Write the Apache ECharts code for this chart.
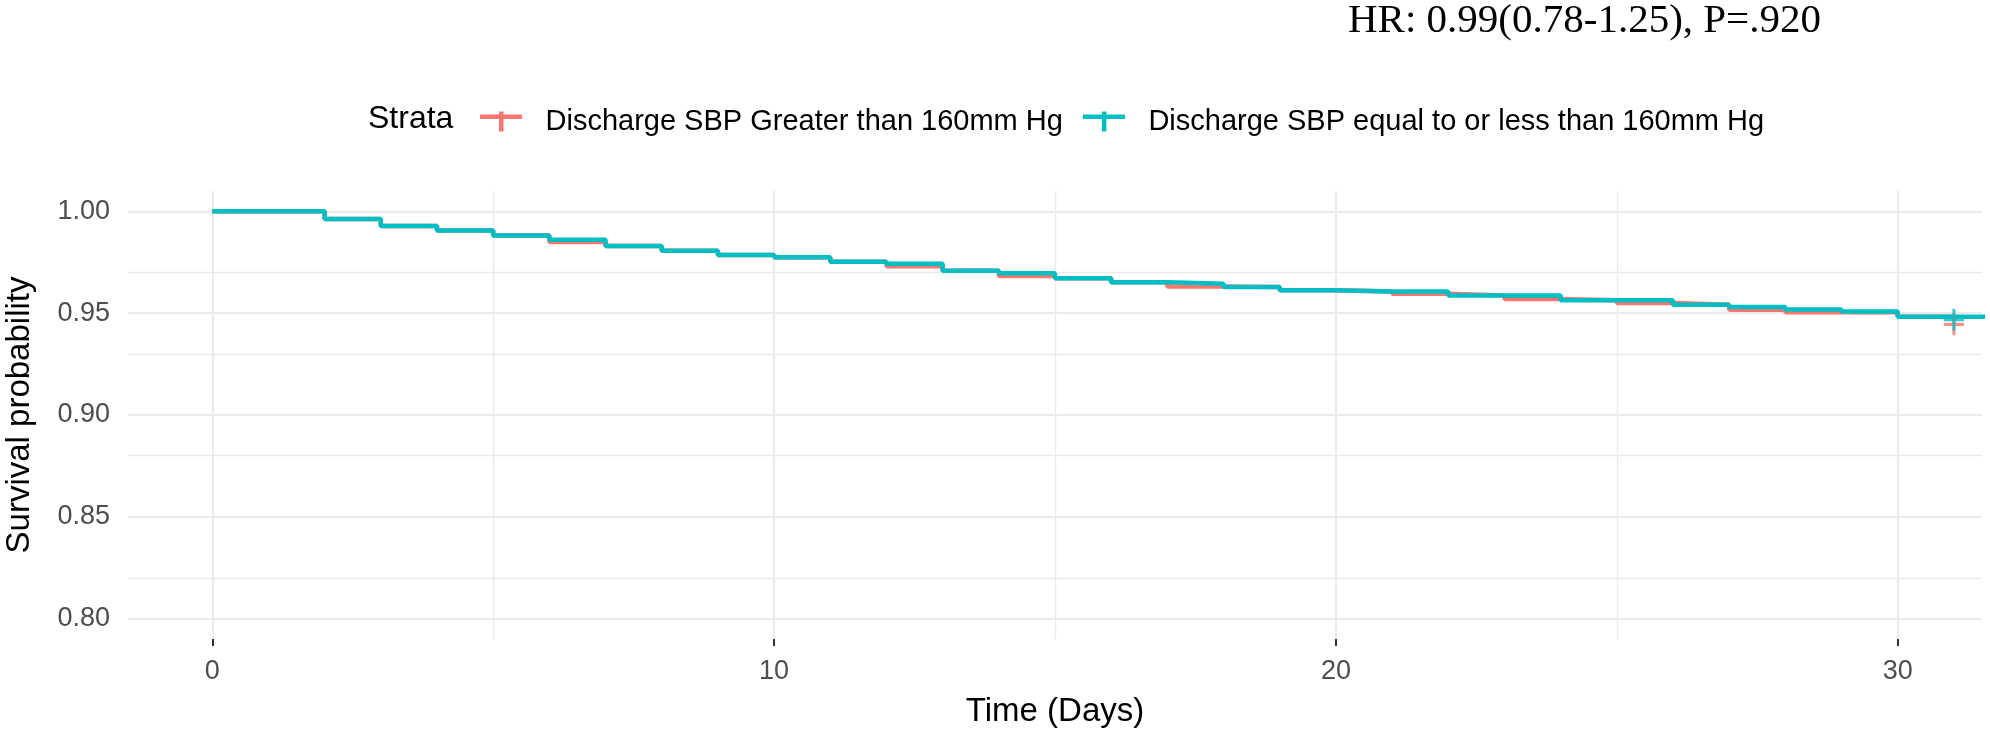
<!DOCTYPE html>
<html>
<head>
<meta charset="utf-8">
<script src="https://cdn.jsdelivr.net/npm/echarts@6/dist/echarts.min.js"></script>
<style>
html,body{margin:0;padding:0;background:#fff;}
#chart{width:1990px;height:733px;}
</style>
</head>
<body>
<div id="chart"></div>
<script>
// Strata names
const strataNames = ['Discharge SBP Greater than 160mm Hg', 'Discharge SBP equal to or less than 160mm Hg'];
// Step-curve event times (days) and survival values
const daysHigh = [0, 2, 3, 4, 5, 6, 7, 8, 9, 10, 11, 12, 13, 14, 15, 16, 17, 18, 19, 20, 21, 22, 23, 24, 25, 26, 27, 28, 29, 30, 31];
const survHigh = [1.0, 0.9962, 0.9928, 0.9906, 0.9882, 0.9849, 0.9830, 0.9807, 0.9786, 0.9775, 0.9753, 0.9730, 0.9708, 0.9683, 0.9672, 0.9652, 0.9631, 0.9628, 0.9613, 0.9606, 0.9595, 0.9587, 0.9570, 0.9563, 0.9550, 0.9542, 0.9517, 0.9505, 0.9505, 0.9483, 0.9460];
const daysLow = [0, 2, 3, 4, 5, 6, 7, 8, 9, 10, 11, 12, 13, 14, 15, 16, 17, 18, 19, 20, 21, 22, 23, 24, 25, 26, 27, 28, 29, 30, 31.6];
const survLow = [1.0, 0.9962, 0.9928, 0.9906, 0.9882, 0.9861, 0.9830, 0.9807, 0.9786, 0.9775, 0.9753, 0.9743, 0.9708, 0.9696, 0.9672, 0.9652, 0.9644, 0.9629, 0.9613, 0.9606, 0.9606, 0.9587, 0.9587, 0.9563, 0.9563, 0.9542, 0.9530, 0.9518, 0.9508, 0.9483, 0.9483];
// Censor marks
const censorHigh = [[31, 0.9460]];
const censorLow = [[31, 0.9483]];
// Axis ticks
const xTicks = [0, 10, 20, 30];
const xMinorGrid = [5, 15, 25];
const yTicks = [0.80, 0.85, 0.90, 0.95, 1.00];
const yMinorGrid = [0.825, 0.875, 0.925, 0.975];
const hrText = 'HR: 0.99(0.78-1.25), P=.920';

const colors = ['#F8766D', '#00BFC4'];
const FONT = 'Liberation Sans, Arial, sans-serif';
const plusPath = 'path://M0,9h20v3h-20z M8.5,0h3v21h-3z';
const legendIcon = 'path://M0,3h42v4.5h-42z M19,0h4.5v20h-4.5z';

const zip = (xs, ys) => xs.map((x, i) => [x, ys[i]]);

const gridLines = [];
xTicks.forEach(v => gridLines.push({xAxis: v, lineStyle: {width: 2.2}}));
xMinorGrid.forEach(v => gridLines.push({xAxis: v, lineStyle: {width: 1.4}}));
yTicks.forEach(v => gridLines.push({yAxis: v, lineStyle: {width: 2.2}}));
yMinorGrid.forEach(v => gridLines.push({yAxis: v, lineStyle: {width: 1.4}}));

const chart = echarts.init(document.getElementById('chart'), null, {renderer: 'canvas'});
chart.setOption({
  animation: false,
  backgroundColor: '#ffffff',
  grid: {left: 128, right: 8, top: 191, bottom: 94, containLabel: false, outerBoundsMode: 'none'},
  graphic: [
    {type: 'text', x: 368, y: 119, style: {text: 'Strata', fontSize: 32, fontFamily: FONT, fill: '#000', verticalAlign: 'middle'}},
    {type: 'text', x: 1348, y: 21, style: {text: hrText, fontSize: 41, fontFamily: 'Liberation Serif, Times New Roman, serif', fill: '#000', verticalAlign: 'middle'}}
  ],
  legend: {
    left: 475, top: 102,
    itemWidth: 43, itemHeight: 20, itemGap: 20,
    data: [
      {name: strataNames[0], icon: legendIcon},
      {name: strataNames[1], icon: legendIcon}
    ],
    textStyle: {fontSize: 29, fontFamily: FONT, color: '#000', padding: [0, 0, 0, 18]}
  },
  xAxis: {
    type: 'value', min: -1.5, max: 31.5,
    name: 'Time (Days)', nameLocation: 'middle', nameGap: 56,
    nameTextStyle: {fontSize: 33, fontFamily: FONT, color: '#000'},
    axisLine: {show: false},
    axisTick: {show: true, length: 7, lineStyle: {color: '#333', width: 2}, customValues: xTicks},
    axisLabel: {fontSize: 27, fontFamily: FONT, color: '#4D4D4D', margin: 19, customValues: xTicks},
    splitLine: {show: false}
  },
  yAxis: {
    type: 'value', min: 0.79, max: 1.01,
    name: 'Survival probability', nameLocation: 'middle', nameGap: 92,
    nameTextStyle: {fontSize: 33, fontFamily: FONT, color: '#000'},
    axisLine: {show: false},
    axisTick: {show: true, length: 7, lineStyle: {color: '#333', width: 2}, customValues: yTicks},
    axisLabel: {fontSize: 27, fontFamily: FONT, color: '#4D4D4D', margin: 18, customValues: yTicks,
      formatter: v => Number(v).toFixed(2)},
    splitLine: {show: false}
  },
  series: [
    {
      name: 'grid', type: 'line', data: [], silent: true, z: 1,
      markLine: {silent: true, symbol: 'none', label: {show: false}, animation: false, z: 1,
        lineStyle: {color: '#EBEBEB', type: 'solid'}, data: gridLines}
    },
    {
      name: strataNames[0], type: 'line', step: 'end', showSymbol: false, z: 3,
      color: colors[0], lineStyle: {color: colors[0], width: 4.5},
      data: zip(daysHigh, survHigh)
    },
    {
      name: strataNames[1], type: 'line', step: 'end', showSymbol: false, z: 4,
      color: colors[1], lineStyle: {color: colors[1], width: 4.5},
      data: zip(daysLow, survLow)
    },
    {
      name: 'censorHigh', type: 'scatter', symbol: plusPath, symbolSize: [20, 22], symbolOffset: [0, 3], z: 5,
      itemStyle: {color: colors[0]}, data: censorHigh
    },
    {
      name: 'censorLow', type: 'scatter', symbol: plusPath, symbolSize: [20, 22], symbolOffset: [0, 3], z: 6,
      itemStyle: {color: colors[1]}, data: censorLow
    }
  ]
});
</script>
</body>
</html>
